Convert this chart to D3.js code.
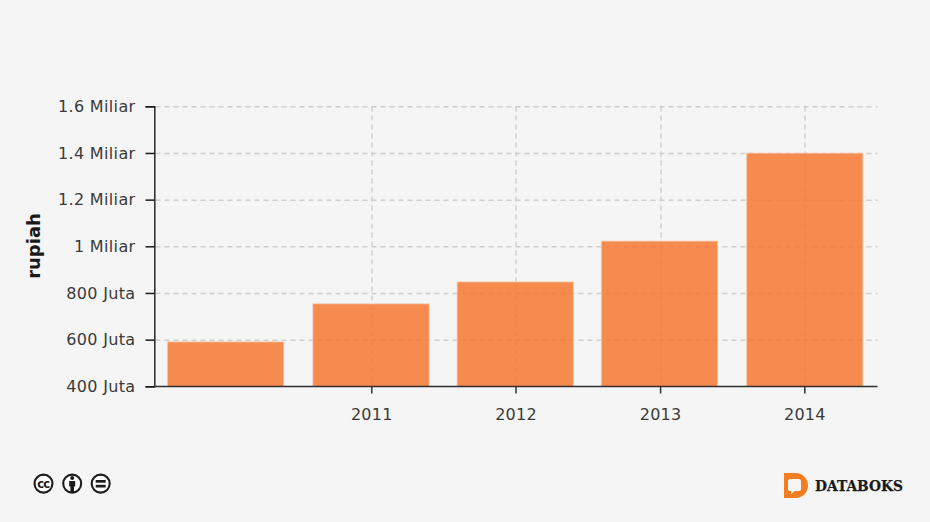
<!DOCTYPE html>
<html><head><meta charset="utf-8">
<script src="https://cdn.jsdelivr.net/npm/d3@7/dist/d3.min.js"></script>
<style>
html,body{margin:0;padding:0;background:#f5f5f5;overflow:hidden}
text{font-family:"DejaVu Sans",sans-serif}
</style></head><body>
<script>
const periods = ["2009-12-27","2010-12-30","2011-12-30","2012-12-29","2014-01-01"];
const values = [591e6, 754e6, 848e6, 1023e6, 1400e6];
const xTickDates = ["2011-01-01","2012-01-01","2013-01-01","2014-01-01"];
const xTickLabels = ["2011","2012","2013","2014"];
const yTicks = [400e6,600e6,800e6,1000e6,1200e6,1400e6,1600e6];
const yTickLabels = ["400 Juta","600 Juta","800 Juta","1 Miliar","1.2 Miliar","1.4 Miliar","1.6 Miliar"];
const yTitle = "rupiah";
const barHalfDays = 147;

const W=930,H=522;
const L=154.5,R=877.5,T=106.5,B=386.5;
const d=s=>new Date(s+"T00:00:00Z");
const svg=d3.select("body").append("svg").attr("width",W).attr("height",H).style("display","block");
svg.append("rect").attr("width",W).attr("height",H).attr("fill","#f5f5f5");

const x=d3.scaleUtc().domain([d("2009-06-30"),d("2014-07-04")]).range([L,R]);
const y=d3.scaleLinear().domain([400e6,1600e6]).range([B,T]);
const snapX=s=>Math.round(x(d(s)));

const grid=svg.append("g").attr("stroke","#cfcfcf").attr("stroke-width",1.5).attr("stroke-dasharray","5 4").attr("fill","none");
grid.selectAll("line.h").data(yTicks.slice(1)).join("line").attr("class","h")
  .attr("x1",L+1).attr("x2",R).attr("y1",v=>y(v)+.3).attr("y2",v=>y(v)+.3);
grid.selectAll("line.v").data(xTickDates).join("line").attr("class","v")
  .attr("x1",snapX).attr("x2",snapX).attr("y1",T).attr("y2",B);

const day=864e5;
svg.append("g").selectAll("rect").data(periods).join("rect")
  .attr("x",(s,i)=>x(new Date(+d(s)-barHalfDays*day)))
  .attr("width",(s)=>x(new Date(+d(s)+barHalfDays*day))-x(new Date(+d(s)-barHalfDays*day)))
  .attr("y",(s,i)=>y(values[i]))
  .attr("height",(s,i)=>B-y(values[i]))
  .attr("fill","#f47830").attr("fill-opacity",.85)
  .attr("stroke","#f8c3a2").attr("stroke-width",.8);

const tickFont='"DejaVu Sans",sans-serif';
const ax=svg.append("g").attr("transform",`translate(${L},0)`)
  .call(d3.axisLeft(y).offset(0.3).tickValues(yTicks).tickFormat((v,i)=>yTickLabels[i]).tickSize(9).tickPadding(10));
ax.selectAll("path").attr("stroke","#1a1a1a").attr("stroke-width",1.4);
ax.selectAll("line").attr("stroke","#1a1a1a").attr("stroke-width",1.5);
ax.selectAll("text").attr("font-size",16).attr("letter-spacing",.35).attr("fill","#3a3a3a").style("font-family",tickFont);

const bx=svg.append("g").attr("transform",`translate(0,${B})`)
  .call(d3.axisBottom(x).offset(0).tickValues(xTickDates.map(d)).tickFormat((v,i)=>xTickLabels[i]).tickSize(7).tickSizeOuter(0).tickPadding(15));
bx.selectAll("path").attr("stroke","#2f2f2f").attr("stroke-width",1.7);
bx.selectAll("line").attr("stroke","#333").attr("stroke-width",1.5);
bx.selectAll("text").attr("font-size",16).attr("letter-spacing",.25).attr("fill","#3a3a3a").style("font-family",tickFont);

svg.append("text").attr("transform","translate(40,246) rotate(-90)").attr("text-anchor","middle")
  .attr("font-size",18).attr("font-weight","bold").attr("fill","#1a1a1a").text(yTitle);

// licence icons
const ic=svg.append("g").attr("fill","none").attr("stroke","#1c1c1c");
[43.5,72.2,100.7].forEach(cx=>ic.append("circle").attr("cx",cx).attr("cy",483.6).attr("r",9).attr("stroke-width",2.1).attr("fill","#fff"));
svg.append("text").attr("x",43.3).attr("y",487.6).attr("text-anchor","middle").attr("font-size",11.5).attr("font-weight","bold").attr("letter-spacing",-.7).attr("fill","#1c1c1c").text("cc");
svg.append("circle").attr("cx",72.2).attr("cy",478).attr("r",2).attr("fill","#1c1c1c");
svg.append("path").attr("d","M69.2 481h6v5.5h-1.2v5.5h-3.6v-5.5h-1.2z").attr("fill","#1c1c1c");
svg.append("g").attr("fill","#1c1c1c").selectAll("rect").data([480,484.8]).join("rect").attr("x",95.7).attr("y",v=>v).attr("width",10).attr("height",2.7);

// Databoks logo
svg.append("path").attr("fill","#f47d20").attr("fill-rule","evenodd")
  .attr("d","M784 473h12c6 0 12 5 12 12.500s-6 12.500-12 12.500h-12zM790 479c-1 0-2 1-2 2v8c0 1 1 2 2 2h1v3.500l3.500-3.500h4.500c1.200 0 2-1 2-2v-8c0-1-1-2-2-2z");
svg.append("text").attr("x",815).attr("y",491).attr("font-size",15.5).attr("font-weight","bold").attr("fill","#1a1a1a").attr("stroke","#1a1a1a").attr("stroke-width",.25)
  .style("font-family",'"DejaVu Serif",serif').attr("textLength",88).attr("lengthAdjust","spacingAndGlyphs").text("DATABOKS");
</script>
</body></html>
